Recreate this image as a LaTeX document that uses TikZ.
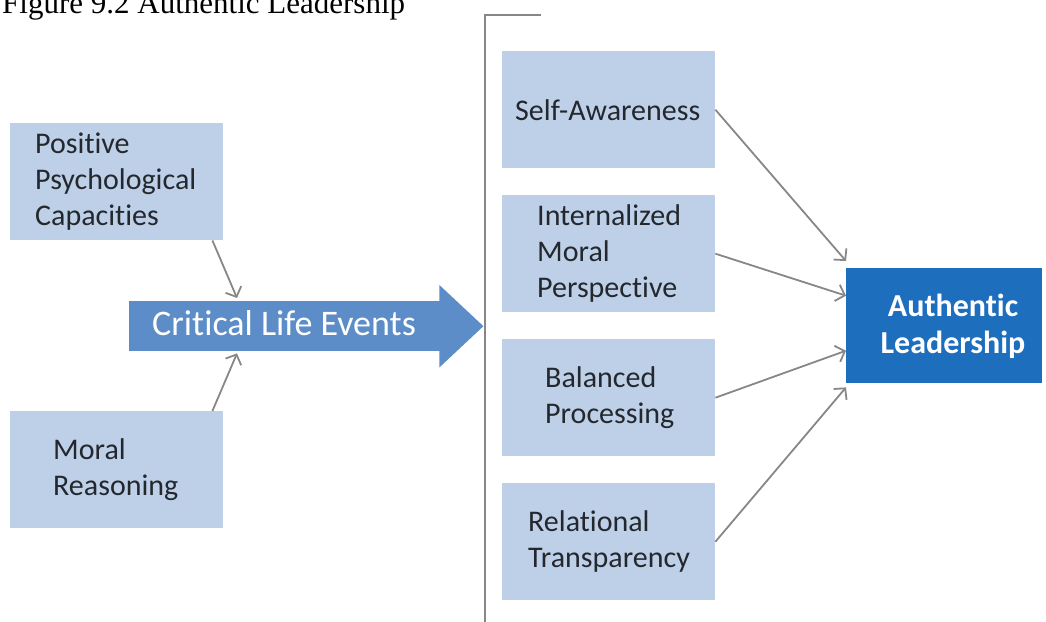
\documentclass[tikz,border=0pt]{standalone}
\usepackage{fontspec}
\setmainfont{Carlito}[RawFeature={-liga}]
\newfontfamily\titlefont{Liberation Serif}
\usetikzlibrary{arrows.meta,calc}
\definecolor{boxblue}{RGB}{190,208,232}
\definecolor{arrowblue}{RGB}{92,141,200}
\definecolor{darkblue}{RGB}{30,110,190}
\definecolor{txtdark}{RGB}{36,40,46}
\definecolor{linegray}{RGB}{135,135,135}
\begin{document}
\begin{tikzpicture}[x=1pt,y=-1pt,
  lbox/.style={fill=boxblue, minimum width=213pt, minimum height=117pt, inner sep=0pt, anchor=north west},
  lbl/.style={anchor=west, align=left, inner sep=0pt, font=\fontsize{30}{36}\selectfont, text=txtdark},
  conn/.style={draw=linegray, line width=1.8pt, -{Straight Barb[length=8pt,width=17pt,line width=1.8pt]}},
]
\useasboundingbox (0,0) rectangle (1046,621);
% title (cut off at top)
\node[anchor=base west, inner sep=0pt, font=\titlefont\fontsize{31}{36}\selectfont, text=black] (title) at (2,13) {Figure 9.2 Authentic Leadership};
% bracket line
\draw[linegray, line width=2.2pt] (541,15) -- (485,15) -- (485,625);
% left boxes
\node[lbox] (ppc) at (10,123) {};
\node[lbl] (ppct) at ($(ppc.west)+(25,0)$) {Positive\\Psychological\\Capacities};
\node[lbox] (mr) at (10,411) {};
\node[lbl] (mrt) at ($(mr.west)+(43,0)$) {Moral\\Reasoning};
% critical life events arrow
\node[fill=arrowblue, minimum width=311pt, minimum height=50pt, inner sep=0pt, anchor=north west] (clebody) at (129,301) {};
\fill[arrowblue] ($(clebody.north east)+(-1,-16)$) -- ($(clebody.east)+(43,0)$) -- ($(clebody.south east)+(-1,16)$) -- cycle;
\node[anchor=base west, inner sep=0pt, font=\fontsize{36}{40}\selectfont, text=white] (clet) at (152,335) {Critical Life Events};
% right boxes
\node[lbox] (sa) at (502,51) {};
\node[lbl] (sat) at ($(sa.west)+(13,0)$) {Self-Awareness};
\node[lbox] (imp) at (502,195) {};
\node[lbl] (impt) at ($(imp.west)+(35,0)$) {Internalized\\Moral\\Perspective};
\node[lbox] (bal) at (502,339) {};
\node[lbl] (balt) at ($(bal.west)+(43,0)$) {Balanced\\Processing};
\node[lbox] (rel) at (502,483) {};
\node[lbl] (relt) at ($(rel.west)+(26,0)$) {Relational\\Transparency};
% authentic leadership
\node[fill=darkblue, minimum width=196pt, minimum height=115pt, inner sep=0pt, anchor=north west] (al) at (846,268) {};
\node[align=center, inner sep=0pt, font=\bfseries\fontsize{32}{37}\selectfont, text=white] (alt) at (953,326) {Authentic\\Leadership};
% connectors
\draw[conn] ($(ppc.south east)+(-11,0)$) -- ($(clebody.north west)+(108,-3)$);
\draw[conn] ($(mr.north east)+(-11,0)$) -- ($(clebody.south west)+(108,2)$);
\draw[conn] (sa.east) -- ($(al.north west)+(0,-7)$);
\draw[conn] (imp.east) -- ($(al.west)+(0,-30)$);
\draw[conn] (bal.east) -- ($(al.west)+(0,25)$);
\draw[conn] (rel.east) -- ($(al.south west)+(0,4)$);
\end{tikzpicture}
\end{document}
